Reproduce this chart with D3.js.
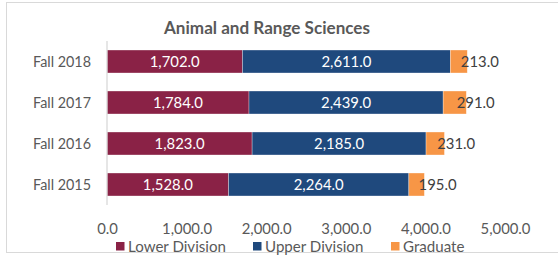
<!DOCTYPE html>
<html><head><meta charset="utf-8">
<script src="https://cdn.jsdelivr.net/npm/d3@7"></script>
<style>
html,body{margin:0;padding:0;background:#fff;}
svg{display:block;}
text{font-family:Lato,"Open Sans",sans-serif;}
</style></head>
<body><svg id="c" width="558" height="255"></svg>
<script>
const categories = ["Fall 2018","Fall 2017","Fall 2016","Fall 2015"];
const seriesNames = ["Lower Division","Upper Division","Graduate"];
const lowerDivision = [1702,1784,1823,1528];
const upperDivision = [2611,2439,2185,2264];
const graduate = [213,291,231,195];
const tickValues = [0,1000,2000,3000,4000,5000];
const colors = ["#8A2246","#1F497D","#F79646"];

const svg = d3.select("#c");
svg.append("rect").attr("x",6.5).attr("y",2.5).attr("width",560).attr("height",250)
  .attr("fill","#fff").attr("stroke","#D9D9D9").attr("stroke-width",1);

// fit text to a target width (matching reference measurements)
function fitWidth(sel, w){
  sel.each(function(){
    const l = this.getComputedTextLength();
    const fs = parseFloat(d3.select(this).attr("font-size"));
    if(l>0) d3.select(this).attr("font-size", fs*w/l);
  });
}

const title = svg.append("text").attr("x",267).attr("y",34).attr("text-anchor","middle")
  .attr("font-size",15).attr("font-weight","bold").attr("fill","#595959")
  .text("Animal and Range Sciences");
fitWidth(title, 206);

const x = d3.scaleLinear().domain([0,5000]).range([107,505]);
const y = d3.scaleBand().domain(categories).range([41,205]).paddingInner(0.44).paddingOuter(0.22);

const stackData = categories.map((c,i)=>({cat:c,"Lower Division":lowerDivision[i],"Upper Division":upperDivision[i],"Graduate":graduate[i]}));
const stacked = d3.stack().keys(seriesNames)(stackData);

const fmt = d3.format(",.1f");
// measure a scale factor so "1,702.0" is ~50px wide
const probe = svg.append("text").attr("font-size",13).text("1,702.0");
const numSize = 13*50/probe.node().getComputedTextLength();
probe.remove();
const probe2 = svg.append("text").attr("font-size",13).text("Fall 2018");
const catSize = 13*58/probe2.node().getComputedTextLength();
probe2.remove();
const probe3 = svg.append("text").attr("font-size",13).text("Lower Division");
const legSize = 13*98/probe3.node().getComputedTextLength();
probe3.remove();

stacked.forEach((layer,li)=>{
  const g = svg.append("g");
  g.selectAll("rect").data(layer).join("rect")
    .attr("x",d=>x(d[0])).attr("y",d=>y(d.data.cat))
    .attr("width",d=>x(d[1])-x(d[0])).attr("height",y.bandwidth())
    .attr("fill",colors[li]).attr("stroke","#fff").attr("stroke-opacity",0.5).attr("stroke-width",0.6);
  g.selectAll("text").data(layer).join("text")
    .attr("x",d=> li<2 ? (x(d[0])+x(d[1]))/2 : (x(d[0])+x(d[1]))/2+2)
    .attr("y",d=>y(d.data.cat)+y.bandwidth()/2)
    .attr("dy","0.36em")
    .attr("text-anchor",li<2?"middle":"start")
    .attr("font-size",numSize)
    .attr("fill",li<2?"#fff":"#404040")
    .text(d=>fmt(d[1]-d[0]));
});

svg.append("line").attr("x1",x(0)).attr("x2",x(0)).attr("y1",41).attr("y2",205)
  .attr("stroke","#D9D9D9").attr("stroke-width",1.3);

svg.append("g").selectAll("text").data(categories).join("text")
  .attr("x",91).attr("y",d=>y(d)+y.bandwidth()/2).attr("dy","0.36em")
  .attr("text-anchor","end").attr("font-size",catSize).attr("fill","#595959").text(d=>d);

const xAxis = d3.axisBottom(x).tickValues(tickValues).tickFormat(fmt).tickSize(0).tickPadding(0);
const ax = svg.append("g").attr("transform","translate(0,229)").call(xAxis);
ax.select(".domain").remove();
ax.selectAll("text").attr("dy","0.36em").attr("font-size",numSize).attr("fill","#595959").attr("font-family","Lato, 'Open Sans', sans-serif");

const legendX = [116,253,391];
const lg = svg.append("g");
seriesNames.forEach((n,i)=>{
  lg.append("rect").attr("x",legendX[i]).attr("y",242).attr("width",8.5).attr("height",8.5).attr("fill",colors[i]);
  lg.append("text").attr("x",legendX[i]+12).attr("y",246.5).attr("dy","0.36em")
    .attr("font-size",legSize).attr("fill","#595959").text(n);
});
</script></body></html>
